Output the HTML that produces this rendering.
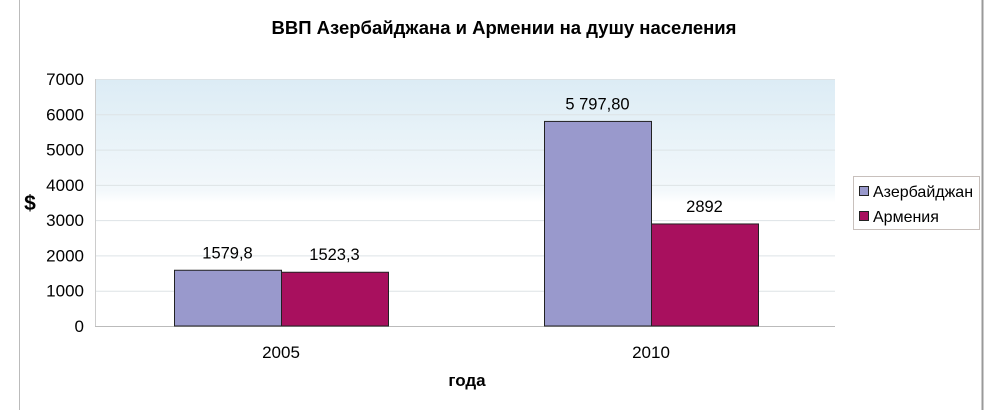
<!DOCTYPE html>
<html><head><meta charset="utf-8"><style>
body{margin:0;width:990px;height:410px;background:#fff;overflow:hidden;font-family:"Liberation Sans",sans-serif}
</style></head><body>
<svg width="990" height="410" id="c">
<defs><linearGradient id="g" x1="0" y1="0" x2="0" y2="1">
<stop offset="0" stop-color="#dcecf5"/><stop offset="0.45" stop-color="#f3f8fb"/><stop offset="0.5" stop-color="#fff"/></linearGradient></defs>
<line x1="19.5" y1="0" x2="19.5" y2="410" stroke="#bbb"/>
<line x1="982.5" y1="0" x2="982.5" y2="410" stroke="#999" stroke-width="2"/>
<text x="504" y="34" text-anchor="middle" font-size="18.5" font-weight="bold">ВВП Азербайджана и Армении на душу населения</text>
<rect x="95" y="79" width="740" height="247" fill="url(#g)"/>
<g id="grid"></g><g id="bars"></g>
<text x="30" y="210" text-anchor="middle" font-size="21" font-weight="bold">$</text>
<text x="467" y="386" text-anchor="middle" font-size="17" font-weight="bold">года</text>
<g>
<rect x="853.5" y="176.5" width="126" height="53" fill="#fff" stroke="#c8c0bc"/>
<rect x="859.5" y="186.5" width="9" height="9" fill="#9999cc" stroke="#222"/>
<text x="873" y="197" font-size="16">Азербайджан</text>
<rect x="859.5" y="211.5" width="9" height="9" fill="#a8105e" stroke="#222"/>
<text x="873" y="222" font-size="16">Армения</text>
</g>
</svg>
<script>
const categories=["2005","2010"];
const azer=[1579.8,5797.8];
const arm=[1523.3,2892];
const azerLabels=["1579,8","5 797,80"];
const armLabels=["1523,3","2892"];
const ticks=[0,1000,2000,3000,4000,5000,6000,7000];
const NS="http://www.w3.org/2000/svg";
const X0=96,W=740,Y0=326,H=247,MAX=7000;
const y=v=>Y0-v/MAX*H;
const bw=107;
function mk(t,a,p){const e=document.createElementNS(NS,t);for(const k in a)e.setAttribute(k,a[k]);p.appendChild(e);return e;}
const grid=document.getElementById('grid'),bars=document.getElementById('bars');
ticks.forEach(t=>{
 const l=mk('line',{x1:95,x2:835,y1:y(t)+0.5,y2:y(t)+0.5,stroke:t==0?'#bbb':'#dde3e6'},grid);
 
 
 const tx=mk('text',{x:84,y:y(t)+6,'text-anchor':'end','font-size':17},grid);tx.textContent=t;
 
 
});
mk('line',{x1:95.5,x2:95.5,y1:79,y2:Y0,stroke:'#ccc'},grid);
categories.forEach((c,i)=>{
 const cx=X0+W/categories.length*(i+0.5);
 const r1=mk('rect',{x:cx-bw+0.5,y:y(azer[i]),width:bw,height:Y0-y(azer[i]),fill:'#9999cc',stroke:'#222'},bars);
 
 
 const r2=mk('rect',{x:cx+0.5,y:y(arm[i]),width:bw,height:Y0-y(arm[i]),fill:'#a8105e',stroke:'#222'},bars);
 
 
 const t1=mk('text',{x:cx-bw/2,y:y(azer[i])-12,'text-anchor':'middle','font-size':16.5},bars);t1.textContent=azerLabels[i];
 
 
 const t2=mk('text',{x:cx+bw/2,y:y(arm[i])-12,'text-anchor':'middle','font-size':16.5},bars);t2.textContent=armLabels[i];
 
 
 const xl=mk('text',{x:cx,y:358,'text-anchor':'middle','font-size':17},bars);xl.textContent=c;
 
 
});
</script>
</body></html>
